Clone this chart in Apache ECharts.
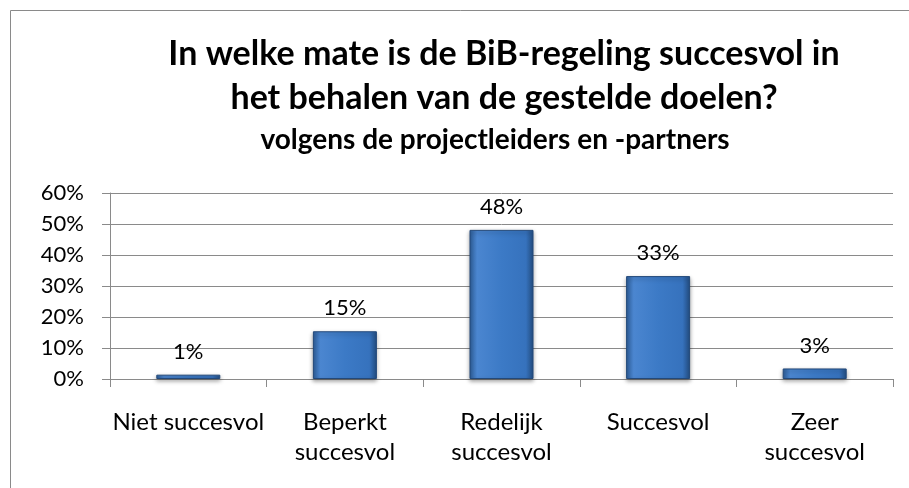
<!DOCTYPE html>
<html>
<head>
<meta charset="utf-8">
<script src="https://cdn.jsdelivr.net/npm/echarts@6/dist/echarts.min.js"></script>
<style>
  html, body { margin: 0; padding: 0; background: #fff; }
  #chart { width: 909px; height: 488px; }
</style>
</head>
<body>
<div id="chart"></div>
<script>
// Chart data
var titleLines = ['In welke mate is de BiB-regeling succesvol in', 'het behalen van de gestelde doelen?'];
var subtitle = 'volgens de projectleiders en -partners';
var categories = ['Niet succesvol', 'Beperkt\nsuccesvol', 'Redelijk\nsuccesvol', 'Succesvol', 'Zeer\nsuccesvol'];
var shares = [1.4, 15.4, 48.1, 33.2, 3.4];
var yTicks = [0, 10, 20, 30, 40, 50, 60];

(function () {
  'use strict';

  var FONT = 'Lato, "Open Sans", sans-serif';
  var chart = echarts.init(document.getElementById('chart'), null, { renderer: 'canvas' });

  var barColor = {
    type: 'linear', x: 0, y: 0, x2: 1, y2: 0,
    colorStops: [
      { offset: 0, color: '#2d5d98' },
      { offset: 0.12, color: '#4b86d0' },
      { offset: 0.5, color: '#3c7ac6' },
      { offset: 0.88, color: '#3672bd' },
      { offset: 1, color: '#244f84' }
    ]
  };

  chart.setOption({
    backgroundColor: '#fff',
    animation: false,
    graphic: [
      {
        type: 'rect',
        shape: { x: 10.5, y: 10.5, width: 1000, height: 1000 },
        style: { fill: 'none', stroke: '#8a8a8a', lineWidth: 1 },
        silent: true
      },
      {
        type: 'text', x: 504, y: 54,
        style: { text: titleLines[0], font: 'bold 34px ' + FONT, fill: '#000', align: 'center', verticalAlign: 'middle' }
      },
      {
        type: 'text', x: 504, y: 98,
        style: { text: titleLines[1], font: 'bold 34px ' + FONT, fill: '#000', align: 'center', verticalAlign: 'middle' }
      },
      {
        type: 'text', x: 495, y: 140,
        style: { text: subtitle, font: 'bold 28px ' + FONT, fill: '#000', align: 'center', verticalAlign: 'middle' }
      }
    ],
    grid: { left: 110, right: 16, top: 193, bottom: 109 },
    xAxis: {
      type: 'category',
      data: categories,
      boundaryGap: true,
      axisLine: { lineStyle: { color: '#8a8a8a', width: 1 } },
      axisTick: { show: true, length: 8, inside: false, lineStyle: { color: '#8a8a8a' } },
      axisLabel: {
        interval: 0,
        margin: 28,
        color: '#000',
        fontFamily: FONT,
        fontSize: 24,
        lineHeight: 30
      }
    },
    yAxis: {
      type: 'value',
      min: yTicks[0],
      max: yTicks[yTicks.length - 1],
      interval: 10,
      axisLine: { show: true, lineStyle: { color: '#8a8a8a', width: 1 } },
      axisTick: { show: true, length: 8, lineStyle: { color: '#8a8a8a' } },
      splitLine: { lineStyle: { color: '#8a8a8a', width: 1 } },
      axisLabel: {
        margin: 26,
        color: '#000',
        fontFamily: FONT,
        fontSize: 22,
        formatter: function (v) { return v + '%'; }
      }
    },
    series: [
      {
        type: 'bar',
        data: shares,
        barWidth: 64,
        itemStyle: {
          color: barColor,
          borderColor: '#23497a',
          borderWidth: 1,
          shadowColor: 'rgba(0,0,0,0.35)',
          shadowBlur: 4,
          shadowOffsetY: 2
        },
        label: {
          show: true,
          position: 'top',
          distance: 12,
          color: '#000',
          fontFamily: FONT,
          fontSize: 22,
          formatter: function (p) { return Math.round(p.value) + '%'; }
        }
      }
    ]
  });
})();
</script>
</body>
</html>
